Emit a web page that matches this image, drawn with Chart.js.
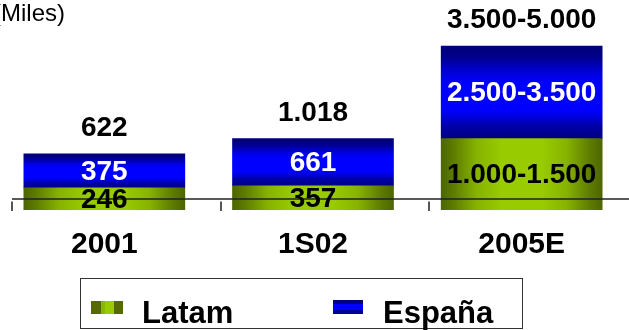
<!DOCTYPE html>
<html><head><meta charset="utf-8">
<script src="https://cdn.jsdelivr.net/npm/chart.js@4.4.0/dist/chart.umd.min.js"></script>
<style>html,body{margin:0;padding:0;background:#fff;overflow:hidden}#wrap{width:629px;height:330px;position:relative}</style>
</head><body><div id="wrap"><canvas id="c" width="629" height="330"></canvas></div>
<script>
// ---- data ----
const categories = ['2001', '1S02', '2005E'];
const seriesNames = ['Latam', 'España'];
// bar heights as drawn in the (schematic) picture, arbitrary units
const latamHeights = [11, 12, 35.5];
const espanaHeights = [17, 23.5, 46];
// value labels printed on the chart
const latamLabels = ['246', '357', '1.000-1.500'];
const espanaLabels = ['375', '661', '2.500-3.500'];
const totalLabels = ['622', '1.018', '3.500-5.000'];
const unitLabel = '(Miles)';

// ---- styling ----
const FONT = "'Liberation Sans', Arial, sans-serif";
const BAR_W = 161;
const AXIS_LEVEL = 5.5; // level (in axis units) of the drawn baseline

function latamFill(c) {
  const chart = c.chart, x = chart.scales.x;
  if (!x || !chart.chartArea) return '#99cc00';
  const cx = x.getPixelForValue(c.dataIndex);
  const g = chart.ctx.createLinearGradient(cx - BAR_W / 2, 0, cx + BAR_W / 2, 0);
  g.addColorStop(0, '#4d6600');
  g.addColorStop(0.08, '#5e7d00');
  g.addColorStop(0.22, '#86b300');
  g.addColorStop(0.38, '#99cc00');
  g.addColorStop(0.62, '#99cc00');
  g.addColorStop(0.78, '#86b300');
  g.addColorStop(0.92, '#5e7d00');
  g.addColorStop(1, '#4d6600');
  return g;
}
function espanaFill(c) {
  const chart = c.chart, y = chart.scales.y;
  if (!y || !chart.chartArea) return '#0000ff';
  const i = c.dataIndex;
  const top = y.getPixelForValue(latamHeights[i] + espanaHeights[i]);
  const bot = y.getPixelForValue(latamHeights[i]);
  const g = chart.ctx.createLinearGradient(0, top, 0, bot);
  g.addColorStop(0, '#000078');
  g.addColorStop(0.12, '#00008c');
  g.addColorStop(0.3, '#0000e0');
  g.addColorStop(0.4, '#0000ff');
  g.addColorStop(0.7, '#0000ff');
  g.addColorStop(0.86, '#0000a8');
  g.addColorStop(1, '#000080');
  return g;
}

const decor = {
  id: 'decor',
  afterDatasetsDraw(chart) {
    const { ctx, scales: { x, y } } = chart;
    const step = x.getPixelForValue(1) - x.getPixelForValue(0);
    const yAx = y.getPixelForValue(AXIS_LEVEL);
    ctx.save();
    // baseline
    ctx.strokeStyle = '#222';
    ctx.lineWidth = 1.5;
    const x0 = x.getPixelForValue(0) - step / 2 + 12;
    ctx.beginPath(); ctx.moveTo(x0, yAx); ctx.lineTo(chart.width, yAx); ctx.stroke();
    // tick marks
    ctx.strokeStyle = '#555';
    ctx.lineWidth = 2;
    categories.forEach((_, i) => {
      const tx = Math.round(x.getPixelForValue(i) - step / 2 + 12);
      ctx.beginPath(); ctx.moveTo(tx, yAx + 2.5); ctx.lineTo(tx, yAx + 12); ctx.stroke();
    });
    // value labels
    const m0 = chart.getDatasetMeta(0).data, m1 = chart.getDatasetMeta(1).data;
    ctx.textAlign = 'center';
    categories.forEach((_, i) => {
      const b0 = m0[i], b1 = m1[i];
      ctx.textBaseline = 'middle';
      ctx.font = 'bold 28px ' + FONT;
      ctx.fillStyle = '#000';
      ctx.fillText(latamLabels[i], b0.x, (b0.y + b0.base) / 2 + 1);
      ctx.fillStyle = '#fff';
      ctx.fillText(espanaLabels[i], b1.x, (b1.y + b1.base) / 2 + 1);
      ctx.textBaseline = 'alphabetic';
      ctx.fillStyle = '#000';
      ctx.font = 'bold 28px ' + FONT;
      ctx.fillText(totalLabels[i], b1.x, b1.y - 18);
    });
    ctx.restore();
  },
  afterDraw(chart) {
    const ctx = chart.ctx;
    ctx.save();
    // unit label (partly cut at the left edge)
    ctx.fillStyle = '#000';
    ctx.font = '24px ' + FONT;
    ctx.textAlign = 'left';
    ctx.textBaseline = 'alphabetic';
    ctx.fillText(unitLabel, -7, 21);
    // legend box
    ctx.strokeStyle = '#333';
    ctx.lineWidth = 1;
    ctx.strokeRect(80.5, 278.5, 442, 50);
    // Latam swatch (vertical bands)
    const lg = ctx.createLinearGradient(91, 0, 123, 0);
    lg.addColorStop(0, '#556b00'); lg.addColorStop(0.3, '#556b00');
    lg.addColorStop(0.3, '#88b800'); lg.addColorStop(0.45, '#88b800');
    lg.addColorStop(0.45, '#99cc00'); lg.addColorStop(0.72, '#99cc00');
    lg.addColorStop(0.72, '#556b00'); lg.addColorStop(1, '#556b00');
    ctx.fillStyle = lg;
    ctx.fillRect(91, 301, 32, 13);
    // España swatch (horizontal bands)
    const eg = ctx.createLinearGradient(0, 300, 0, 314);
    eg.addColorStop(0, '#000080'); eg.addColorStop(0.3, '#000080');
    eg.addColorStop(0.3, '#0000ff'); eg.addColorStop(0.72, '#0000ff');
    eg.addColorStop(0.72, '#00009a'); eg.addColorStop(1, '#00009a');
    ctx.fillStyle = eg;
    ctx.fillRect(333, 300, 30, 14);
    // legend texts
    ctx.fillStyle = '#000';
    ctx.font = 'bold 31px ' + FONT;
    ctx.fillText(chart.data.datasets[0].label, 142, 323);
    ctx.fillText(chart.data.datasets[1].label, 383, 323);
    ctx.restore();
  }
};

new Chart(document.getElementById('c'), {
  type: 'bar',
  data: {
    labels: categories,
    datasets: [
      { label: seriesNames[0], data: latamHeights, backgroundColor: latamFill, borderWidth: 0, barThickness: BAR_W },
      { label: seriesNames[1], data: espanaHeights, backgroundColor: espanaFill, borderWidth: 0, barThickness: BAR_W }
    ]
  },
  options: {
    responsive: false,
    devicePixelRatio: 1,
    animation: false,
    layout: { padding: { left: 0, right: 3, top: 9, bottom: 50 } },
    plugins: { legend: { display: false }, tooltip: { enabled: false }, title: { display: false } },
    scales: {
      x: {
        stacked: true,
        grid: { display: false, drawTicks: false },
        border: { display: false },
        ticks: { color: '#000', font: { family: FONT, size: 30, weight: 'bold' }, padding: 17, maxRotation: 0 }
      },
      y: { stacked: true, display: false, min: 0, max: 100 }
    }
  },
  plugins: [decor]
});
</script></body></html>
